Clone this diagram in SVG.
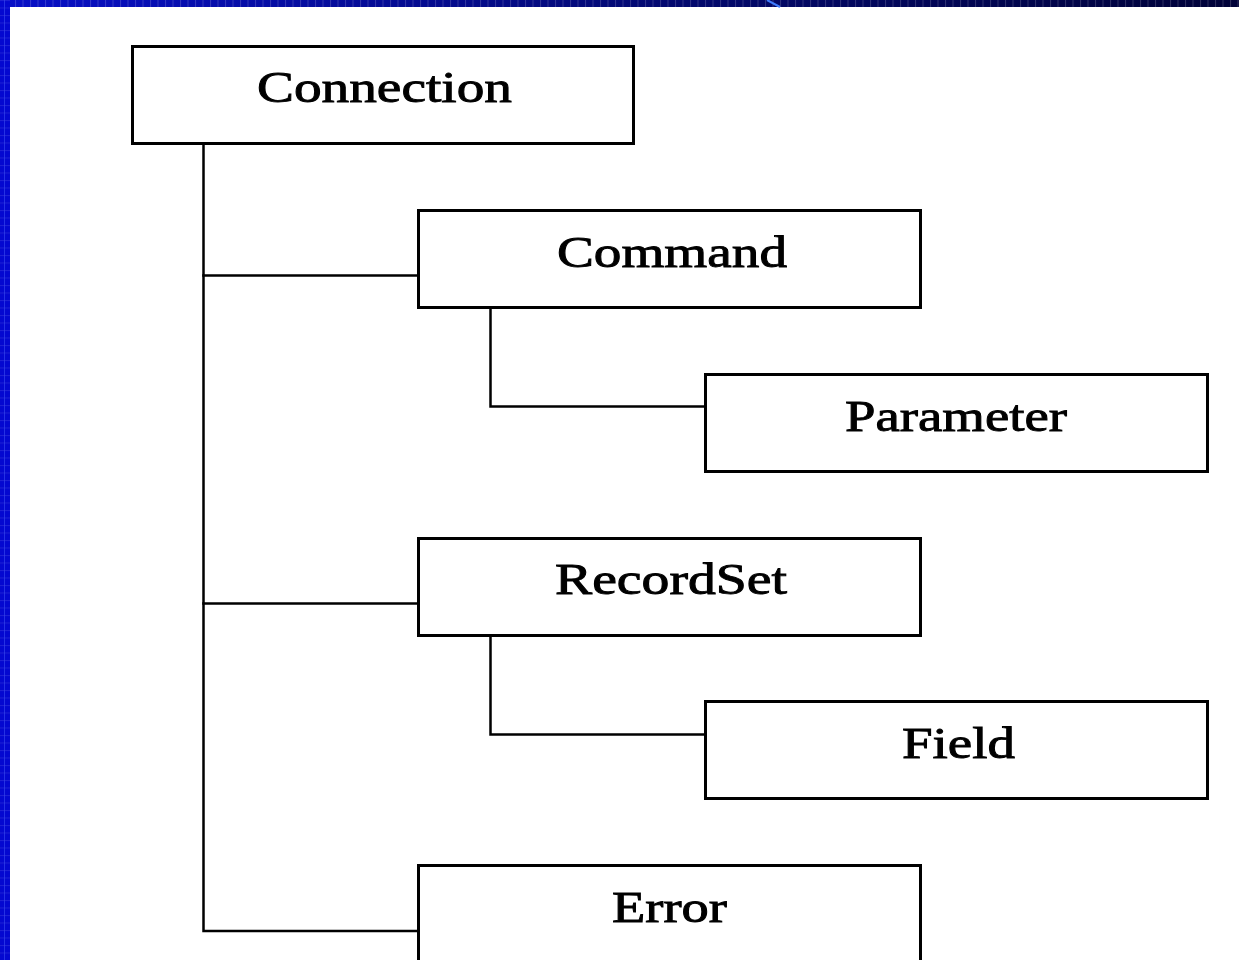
<svg xmlns="http://www.w3.org/2000/svg" width="1239" height="960" viewBox="0 0 1239 960">
  <defs>
    <linearGradient id="topBand" x1="0" y1="0" x2="1" y2="0">
      <stop offset="0" stop-color="#0810c8"/>
      <stop offset="0.55" stop-color="#03096e"/>
      <stop offset="1" stop-color="#000238"/>
    </linearGradient>
    <pattern id="grid" width="7.5" height="7" patternUnits="userSpaceOnUse">
      <rect x="0" y="0" width="1" height="7" fill="#ffffff" fill-opacity="0.18"/>
    </pattern>
    <pattern id="vgrid" width="10" height="7.5" patternUnits="userSpaceOnUse">
      <rect x="0" y="0" width="10" height="1" fill="#ffffff" fill-opacity="0.1"/>
    </pattern>
    <style>
      .box { fill: #ffffff; stroke: #000000; stroke-width: 3; }
      .label { font-family: "Liberation Serif", "Times New Roman", serif; font-size: 44px; fill: #000000; stroke: #000000; stroke-width: 0.9; text-anchor: middle; }
      .wire { fill: none; stroke: #000000; stroke-width: 2.5; stroke-linecap: square; }
    </style>
  </defs>

  <!-- page and slide frame -->
  <rect x="0" y="0" width="1239" height="960" fill="#ffffff"/>
  <rect x="0" y="0" width="1239" height="7" fill="url(#topBand)"/>
  <rect x="0" y="0" width="1239" height="7" fill="url(#grid)"/>
  <rect x="0" y="0" width="10" height="960" fill="#0408d0"/>
  <rect x="0" y="0" width="10" height="960" fill="url(#vgrid)"/>
  <rect x="4" y="0" width="1" height="960" fill="#3a4cf0" fill-opacity="0.6"/>
  <line x1="767" y1="0" x2="780" y2="7" stroke="#3f7cff" stroke-width="2"/>

  <!-- connectors -->
  <g id="connectors">
    <path class="wire" d="M203.5 144 V931 H418"/>
    <path class="wire" d="M203.5 275.5 H418"/>
    <path class="wire" d="M203.5 603.5 H418"/>
    <path class="wire" d="M490.5 308 V406.5 H705"/>
    <path class="wire" d="M490.5 636 V734.5 H705"/>
  </g>

  <!-- nodes -->
  <g id="connection">
    <rect class="box" x="132.5" y="46.5" width="501" height="97"/>
    <text class="label" x="384.5" y="102" textLength="255" lengthAdjust="spacingAndGlyphs">Connection</text>
  </g>
  <g id="command">
    <rect class="box" x="418.5" y="210.5" width="502" height="97"/>
    <text class="label" x="672" y="267" textLength="230" lengthAdjust="spacingAndGlyphs">Command</text>
  </g>
  <g id="parameter">
    <rect class="box" x="705.5" y="374.5" width="502" height="97"/>
    <text class="label" x="956" y="431" textLength="222" lengthAdjust="spacingAndGlyphs">Parameter</text>
  </g>
  <g id="recordset">
    <rect class="box" x="418.5" y="538.5" width="502" height="97"/>
    <text class="label" x="671" y="594" textLength="232" lengthAdjust="spacingAndGlyphs">RecordSet</text>
  </g>
  <g id="field">
    <rect class="box" x="705.5" y="701.5" width="502" height="97"/>
    <text class="label" x="958.5" y="758" textLength="113" lengthAdjust="spacingAndGlyphs">Field</text>
  </g>
  <g id="error">
    <rect class="box" x="418.5" y="865.5" width="502" height="120"/>
    <text class="label" x="669.5" y="922" textLength="115" lengthAdjust="spacingAndGlyphs">Error</text>
  </g>
</svg>
